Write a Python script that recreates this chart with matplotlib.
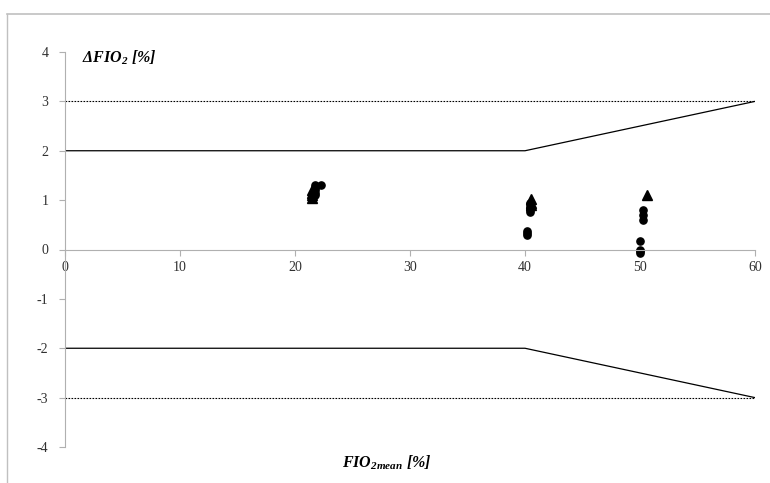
import matplotlib
matplotlib.use("Agg")
import matplotlib.pyplot as plt
from matplotlib.lines import Line2D

plt.rcParams['font.family'] = ['Liberation Serif', 'DejaVu Serif']
plt.rcParams['mathtext.fontset'] = 'custom'
plt.rcParams['mathtext.it'] = 'Liberation Serif:italic:bold'
plt.rcParams['mathtext.rm'] = 'Liberation Serif:italic:bold'
plt.rcParams['mathtext.bf'] = 'Liberation Serif:italic:bold'

# Measured differences (circles and triangles) at three FiO2 levels
circle_x = [21.7, 21.7, 21.7, 21.7, 21.7, 22.3,
            40.2, 40.2, 40.2, 40.4, 40.4, 40.4, 40.4, 40.4,
            50.0, 50.0, 50.0, 50.0, 50.3, 50.3, 50.3]
circle_y = [1.1, 1.15, 1.2, 1.25, 1.3, 1.3,
            0.3, 0.33, 0.37, 0.75, 0.8, 0.85, 0.9, 0.95,
            -0.07, -0.03, 0.0, 0.17, 0.6, 0.7, 0.8]
tri_x = [21.5, 21.5, 21.5, 21.5, 40.5, 40.5, 40.5, 50.6]
tri_y = [1.05, 1.1, 1.15, 1.2, 0.9, 0.95, 1.02, 1.1]

# Tolerance limits
limit_x = [0, 40, 60]
limit_upper = [2, 2, 3]
limit_lower = [-2, -2, -3]
outer_x = [0, 60]
outer_upper = [3, 3]
outer_lower = [-3, -3]

x_ticks = [0, 10, 20, 30, 40, 50, 60]
y_ticks = [-4, -3, -2, -1, 0, 1, 2, 3, 4]

fig = plt.figure(figsize=(7.7, 4.83), dpi=100)
ax = fig.add_axes([65 / 770, 1 - 447 / 483, 690 / 770, 395 / 483])

ax.plot(limit_x, limit_upper, color='black', lw=0.9)
ax.plot(limit_x, limit_lower, color='black', lw=0.9)
ax.plot(outer_x, outer_upper, color='black', lw=0.8, ls=(0, (1.5, 1.2)))
ax.plot(outer_x, outer_lower, color='black', lw=0.8, ls=(0, (1.5, 1.2)))

ax.plot(circle_x, circle_y, 'o', color='black', ms=5.2, ls='none')
ax.plot(tri_x, tri_y, '^', color='black', ms=6.5, ls='none')

ax.set_xlim(0, 60)
ax.set_ylim(-4, 4)
ax.set_xticks(x_ticks)
ax.set_yticks(y_ticks)
ax.set_xticklabels([str(v) for v in x_ticks])
ax.set_yticklabels([str(v) for v in y_ticks])

for s in ['top', 'right']:
    ax.spines[s].set_visible(False)
ax.spines['left'].set_color('#b0b0b0')
ax.spines['bottom'].set_color('#b0b0b0')
ax.spines['bottom'].set_position(('data', 0))
ax.tick_params(axis='both', colors='#b0b0b0', labelcolor='#303030',
               labelsize=10, length=4, width=0.8, direction='out')
ax.tick_params(axis='x', pad=4)
ax.tick_params(axis='y', pad=8)

ax.text(1.5, 3.88, r'$\Delta FIO_2\ [\%]$', fontsize=11.5,
        ha='left', va='center', color='black')
ax.text(28.0, -4.32, r'$FIO_{2mean}\ [\%]$', fontsize=11.5,
        ha='center', va='center', color='black', clip_on=False)

# Chart area frame
fig.add_artist(Line2D([7 / 770, 1], [1 - 14 / 483, 1 - 14 / 483],
                      color='#c0c0c0', lw=1.2, transform=fig.transFigure))
fig.add_artist(Line2D([7 / 770, 7 / 770], [0, 1 - 14 / 483],
                      color='#c0c0c0', lw=1.0, transform=fig.transFigure))

fig.savefig('out.png', dpi=100, facecolor='white')
